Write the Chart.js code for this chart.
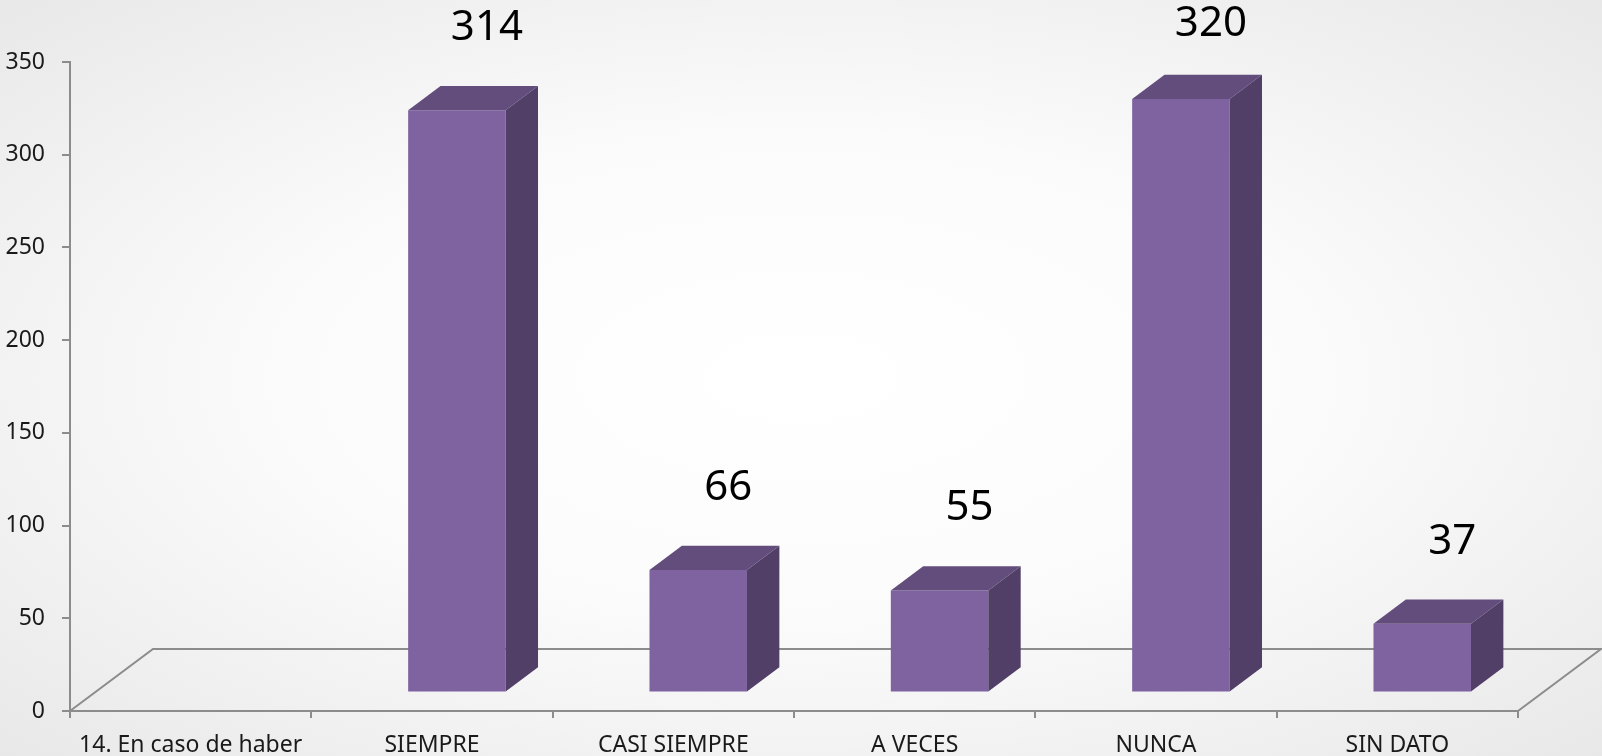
<!DOCTYPE html>
<html>
<head>
<meta charset="utf-8">
<script src="https://cdn.jsdelivr.net/npm/chart.js@4.4.1/dist/chart.umd.min.js"></script>
<style>
  html, body { margin: 0; padding: 0; overflow: hidden; }
  body {
    width: 1602px; height: 756px;
    background: radial-gradient(ellipse at 50% 50%, #ffffff 0%, #fbfbfb 45%, #e8e8e8 100%);
  }
  canvas { display: block; }
</style>
</head>
<body>
<canvas id="chart" width="1602" height="756"></canvas>
<script>
const categories = ["14. En caso de haber", "SIEMPRE", "CASI SIEMPRE", "A VECES", "NUNCA", "SIN DATO"];
const counts = [null, 314, 66, 55, 320, 37];
const yTicks = [0, 50, 100, 150, 200, 250, 300, 350];

const axisColor = "#8c8c8c";
const frontColor = "#7f63a1";
const topColor = "#634d7d";
const sideColor = "#513f68";

// oblique depth of the floor, bars sit between 30% and 69% of it
const floorDepth = { x: 83, y: -62 };
const frontFrac = 0.3;
const barFrac = 0.39;

const box3d = {
  id: "box3d",
  beforeDatasetsDraw(chart) {
    const { ctx, chartArea: a } = chart;
    ctx.save();
    ctx.strokeStyle = axisColor;
    ctx.lineWidth = 2;
    ctx.beginPath();
    ctx.moveTo(a.left, a.bottom);
    ctx.lineTo(a.left + floorDepth.x, a.bottom + floorDepth.y);
    ctx.lineTo(a.right + floorDepth.x, a.bottom + floorDepth.y);
    ctx.lineTo(a.right, a.bottom);
    ctx.stroke();
    ctx.restore();

    ctx.save();
    ctx.translate(floorDepth.x * frontFrac, floorDepth.y * frontFrac);
  },
  afterDatasetsDraw(chart) {
    const { ctx } = chart;
    const dx = floorDepth.x * barFrac, dy = floorDepth.y * barFrac;
    const meta = chart.getDatasetMeta(0);
    const tops = [];
    meta.data.forEach((bar, i) => {
      if (counts[i] == null) return;
      const x0 = bar.x - bar.width / 2, x1 = bar.x + bar.width / 2;
      const yt = bar.y, yb = bar.base;
      ctx.fillStyle = topColor;
      ctx.beginPath();
      ctx.moveTo(x0, yt);
      ctx.lineTo(x1, yt);
      ctx.lineTo(x1 + dx, yt + dy);
      ctx.lineTo(x0 + dx, yt + dy);
      ctx.closePath();
      ctx.fill();
      ctx.fillStyle = sideColor;
      ctx.beginPath();
      ctx.moveTo(x1, yt);
      ctx.lineTo(x1 + dx, yt + dy);
      ctx.lineTo(x1 + dx, yb + dy);
      ctx.lineTo(x1, yb);
      ctx.closePath();
      ctx.fill();
      tops.push({ i, x: bar.x, y: yt + dy });
    });
    ctx.restore();

    // value labels
    const ox = floorDepth.x * frontFrac, oy = floorDepth.y * frontFrac;
    ctx.save();
    ctx.font = "42px 'Noto Sans'";
    ctx.fillStyle = "#000";
    ctx.textAlign = "center";
    ctx.textBaseline = "middle";
    tops.forEach(t => {
      const ly = Math.max(24, t.y + oy - 58);
      ctx.fillText(String(counts[t.i]), t.x + ox + 30, ly);
    });
    ctx.restore();
  }
};

new Chart(document.getElementById("chart"), {
  type: "bar",
  data: {
    labels: categories,
    datasets: [{
      data: counts,
      backgroundColor: frontColor,
      borderWidth: 0,
      barPercentage: 0.404,
      categoryPercentage: 1,
      clip: false
    }]
  },
  options: {
    responsive: false,
    animation: false,
    layout: { padding: { top: 62, right: 84, left: 0, bottom: 0 } },
    plugins: { legend: { display: false }, tooltip: { enabled: false } },
    scales: {
      x: {
        grid: { display: true, drawOnChartArea: false, drawTicks: true, tickLength: 7, color: axisColor, lineWidth: 2 },
        border: { display: true, color: axisColor, width: 2 },
        ticks: { color: "#1a1a1a", font: { family: "'Noto Sans'", size: 23 }, padding: 14, maxRotation: 0, autoSkip: false },
        afterFit(scale) { scale.height = 45; }
      },
      y: {
        min: 0,
        max: 350,
        afterBuildTicks(scale) { scale.ticks = yTicks.map(v => ({ value: v })); },
        grid: { display: true, drawOnChartArea: false, drawTicks: true, tickLength: 8, color: axisColor, lineWidth: 2 },
        border: { display: true, color: axisColor, width: 2 },
        ticks: { color: "#1a1a1a", font: { family: "'Noto Sans'", size: 23 }, padding: 17 },
        afterFit(scale) { scale.width = 70; }
      }
    }
  },
  plugins: [box3d]
});
</script>
</body>
</html>
